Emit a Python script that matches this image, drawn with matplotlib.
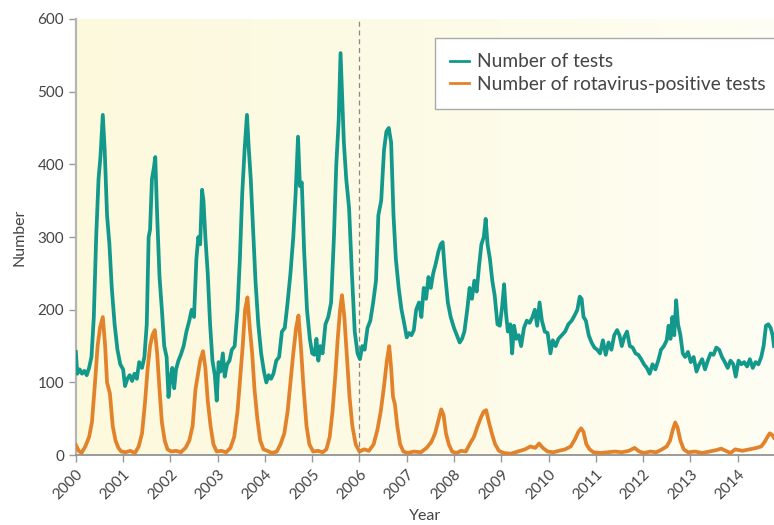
import matplotlib
matplotlib.use("Agg")
import matplotlib.pyplot as plt
import numpy as np
from matplotlib.colors import LinearSegmentedColormap

plt.rcParams['font.family'] = ['Lato', 'DejaVu Sans']

# weekly counts (decimal year, value)
tests_t = [2000.00, 2000.03, 2000.08, 2000.13, 2000.18, 2000.23, 2000.28, 2000.33, 2000.38,
           2000.43, 2000.48, 2000.52, 2000.57, 2000.61, 2000.66, 2000.71, 2000.76, 2000.82,
           2000.88, 2000.94, 2001.00, 2001.04, 2001.09, 2001.14, 2001.19, 2001.24, 2001.29,
           2001.34, 2001.40, 2001.45, 2001.50, 2001.54, 2001.57, 2001.61, 2001.65, 2001.68,
           2001.72, 2001.77, 2001.82, 2001.87, 2001.92, 2001.96, 2002.00, 2002.04, 2002.08,
           2002.12, 2002.17, 2002.22, 2002.28, 2002.34, 2002.40, 2002.45, 2002.50, 2002.55,
           2002.59, 2002.63, 2002.67, 2002.70, 2002.74, 2002.79, 2002.84, 2002.89, 2002.94,
           2002.98, 2003.02, 2003.06, 2003.11, 2003.15, 2003.20, 2003.25, 2003.30, 2003.36,
           2003.42, 2003.47, 2003.52, 2003.57, 2003.62, 2003.66, 2003.70, 2003.75, 2003.80,
           2003.86, 2003.92, 2003.98, 2004.03, 2004.08, 2004.13, 2004.18, 2004.24, 2004.30,
           2004.36, 2004.42, 2004.48, 2004.54, 2004.60, 2004.65, 2004.70, 2004.74, 2004.78,
           2004.83, 2004.89, 2004.95, 2005.00, 2005.05, 2005.09, 2005.13, 2005.17, 2005.22,
           2005.28, 2005.34, 2005.40, 2005.46, 2005.51, 2005.56, 2005.60, 2005.63, 2005.67,
           2005.72, 2005.78, 2005.84, 2005.90, 2005.96, 2006.01, 2006.06, 2006.11, 2006.17,
           2006.23, 2006.29, 2006.35, 2006.40, 2006.46, 2006.52, 2006.57, 2006.62, 2006.67,
           2006.72, 2006.77, 2006.83, 2006.89, 2006.95, 2007.00, 2007.05, 2007.10, 2007.15,
           2007.20, 2007.26, 2007.31, 2007.36, 2007.41, 2007.46, 2007.51, 2007.56, 2007.62,
           2007.67, 2007.72, 2007.76, 2007.81, 2007.87, 2007.93, 2008.00, 2008.06, 2008.12,
           2008.17, 2008.22, 2008.28, 2008.33, 2008.38, 2008.43, 2008.48, 2008.53, 2008.58,
           2008.63, 2008.67, 2008.71, 2008.76, 2008.81, 2008.86, 2008.92, 2008.97, 2009.02,
           2009.06, 2009.10, 2009.14, 2009.19, 2009.23, 2009.27, 2009.32, 2009.37, 2009.42,
           2009.48, 2009.54, 2009.60, 2009.66, 2009.71, 2009.76, 2009.81, 2009.86, 2009.92,
           2009.98, 2010.04, 2010.09, 2010.15, 2010.21, 2010.28, 2010.35, 2010.42, 2010.49,
           2010.55, 2010.61, 2010.66, 2010.70, 2010.74, 2010.79, 2010.85, 2010.91, 2010.97,
           2011.03, 2011.09, 2011.15, 2011.21, 2011.27, 2011.33, 2011.39, 2011.45, 2011.50,
           2011.55, 2011.60, 2011.66, 2011.72, 2011.78, 2011.84, 2011.90, 2011.96, 2012.02,
           2012.08, 2012.14, 2012.20, 2012.26, 2012.32, 2012.38, 2012.44, 2012.50, 2012.54,
           2012.58, 2012.62, 2012.66, 2012.70, 2012.74, 2012.79, 2012.84, 2012.89, 2012.95,
           2013.01, 2013.07, 2013.13, 2013.19, 2013.25, 2013.31, 2013.37, 2013.43, 2013.49,
           2013.55, 2013.61, 2013.67, 2013.73, 2013.79, 2013.85, 2013.91, 2013.96, 2014.02,
           2014.08, 2014.14, 2014.20, 2014.26, 2014.32, 2014.38, 2014.44, 2014.50, 2014.55,
           2014.60, 2014.65, 2014.70, 2014.74, 2014.77]
tests_n = [142, 112, 118, 112, 116, 110, 120, 135, 190,
           300, 380, 410, 468, 420, 330, 290, 230, 180,
           145, 125, 118, 95, 105, 110, 102, 112, 105,
           128, 120, 135, 180, 300, 310, 380, 395, 410,
           330, 245, 200, 150, 135, 80, 105, 120, 92,
           118, 130, 138, 150, 170, 185, 200, 190, 270,
           300, 290, 365, 350, 300, 250, 180, 130, 110,
           75, 128, 115, 140, 108, 125, 130, 145, 150,
           200, 270, 360, 420, 468, 420, 380, 310, 240,
           180, 140, 115, 100, 110, 105, 112, 130, 135,
           170, 175, 210, 250, 300, 360, 438, 370, 375,
           280, 200, 160, 140, 138, 160, 130, 150, 140,
           180, 190, 210, 300, 400, 460, 553, 500, 430,
           380, 340, 250, 170, 140, 132, 150, 145, 175,
           185, 210, 240, 330, 350, 420, 445, 450, 430,
           330, 270, 230, 200, 180, 162, 168, 165, 172,
           200, 210, 190, 230, 215, 245, 230, 250, 265,
           280, 290, 293, 250, 210, 190, 175, 165, 155,
           160, 170, 200, 230, 215, 240, 225, 260, 290,
           300, 325, 290, 270, 240, 220, 180, 178, 205,
           235, 195, 170, 180, 140, 178, 160, 165, 150,
           175, 185, 182, 190, 200, 178, 210, 185, 170,
           168, 140, 158, 150, 160, 165, 170, 180, 185,
           192, 200, 218, 215, 190, 185, 165, 155, 148,
           145, 140, 158, 138, 155, 145, 165, 172, 165,
           150, 162, 170, 150, 148, 140, 138, 132, 125,
           120, 112, 125, 118, 130, 145, 150, 158, 178,
           160, 190, 165, 213, 180, 165, 140, 135, 142,
           128, 135, 115, 125, 132, 118, 130, 140, 138,
           148, 145, 135, 128, 120, 130, 125, 108, 130,
           125, 128, 122, 132, 120, 128, 125, 135, 150,
           178, 180, 175, 165, 150]

pos_t = [2000.00, 2000.06, 2000.12, 2000.20, 2000.28, 2000.34, 2000.40, 2000.46, 2000.51,
         2000.57, 2000.62, 2000.66, 2000.72, 2000.78, 2000.84, 2000.90, 2000.96, 2001.05,
         2001.15, 2001.25, 2001.33, 2001.40, 2001.46, 2001.52, 2001.57, 2001.62, 2001.67,
         2001.72, 2001.77, 2001.82, 2001.88, 2001.94, 2002.02, 2002.12, 2002.22, 2002.32,
         2002.40, 2002.47, 2002.53, 2002.58, 2002.63, 2002.69, 2002.74, 2002.79, 2002.85,
         2002.91, 2002.98, 2003.08, 2003.18, 2003.27, 2003.35, 2003.42, 2003.48, 2003.53,
         2003.58, 2003.63, 2003.68, 2003.73, 2003.78, 2003.84, 2003.90, 2003.97, 2004.05,
         2004.15, 2004.25, 2004.33, 2004.41, 2004.48, 2004.54, 2004.60, 2004.66, 2004.71,
         2004.76, 2004.82, 2004.88, 2004.94, 2005.02, 2005.12, 2005.22, 2005.30, 2005.37,
         2005.43, 2005.49, 2005.54, 2005.59, 2005.63, 2005.68, 2005.73, 2005.79, 2005.85,
         2005.92, 2006.00, 2006.10, 2006.20, 2006.30, 2006.38, 2006.45, 2006.52, 2006.58,
         2006.63, 2006.67, 2006.71, 2006.75, 2006.80, 2006.86, 2006.93, 2007.02, 2007.15,
         2007.30, 2007.42, 2007.52, 2007.60, 2007.67, 2007.73, 2007.78, 2007.83, 2007.89,
         2007.96, 2008.05, 2008.15, 2008.25, 2008.33, 2008.42, 2008.50, 2008.57, 2008.63,
         2008.68, 2008.74, 2008.80, 2008.87, 2008.95, 2009.05, 2009.20, 2009.35, 2009.50,
         2009.62, 2009.72, 2009.80, 2009.88, 2009.98, 2010.10, 2010.22, 2010.35, 2010.47,
         2010.56, 2010.63, 2010.69, 2010.74, 2010.80, 2010.87, 2010.95, 2011.10, 2011.25,
         2011.40, 2011.55, 2011.70, 2011.82, 2011.92, 2012.02, 2012.15, 2012.28, 2012.40,
         2012.50, 2012.57, 2012.63, 2012.68, 2012.73, 2012.79, 2012.86, 2012.95, 2013.10,
         2013.25, 2013.40, 2013.55, 2013.65, 2013.75, 2013.85, 2013.95, 2014.10, 2014.25,
         2014.40, 2014.50, 2014.57, 2014.63, 2014.68, 2014.73, 2014.77]
pos_n = [14, 6, 3, 12, 25, 45, 95, 150, 175,
         190, 150, 100, 85, 40, 20, 10, 5, 4,
         6, 3, 12, 30, 70, 120, 150, 165, 172,
         140, 90, 45, 20, 8, 5, 6, 4, 10,
         20, 40, 90, 110, 130, 143, 120, 75, 40,
         15, 5, 6, 4, 10, 25, 60, 110, 150,
         200, 217, 175, 140, 90, 50, 20, 8, 6,
         3, 5, 15, 30, 60, 100, 140, 175, 192,
         150, 90, 40, 15, 5, 6, 4, 8, 25,
         60, 110, 160, 200, 220, 190, 140, 80, 40,
         15, 5, 8, 6, 15, 35, 60, 95, 130,
         150, 120, 80, 70, 40, 15, 5, 3, 5,
         4, 10, 18, 30, 48, 63, 55, 30, 15,
         5, 3, 6, 5, 15, 25, 40, 52, 60,
         62, 45, 30, 15, 6, 3, 2, 5, 8,
         12, 10, 16, 10, 5, 4, 6, 8, 12,
         22, 32, 37, 32, 15, 8, 4, 3, 4,
         5, 4, 6, 10, 5, 3, 5, 4, 8,
         12, 20, 35, 45, 38, 20, 8, 4, 5,
         3, 5, 7, 9, 6, 3, 8, 6, 8,
         10, 12, 18, 25, 30, 28, 24]

years = list(range(2000, 2015))

teal = '#13998b'
orange = '#e2832b'

fig = plt.figure(figsize=(7.74, 5.25), dpi=100)
ax = fig.add_axes([0.098, 0.133, 0.902, 0.831])

# pale cream background, a touch warmer on the left
cmap = LinearSegmentedColormap.from_list('bg', ['#fcf9dd', '#fdfbe6', '#fffef4'])
grad = np.linspace(0, 1, 256).reshape(1, -1)
ax.imshow(grad, cmap=cmap, aspect='auto', extent=[2000, 2014.77, 0, 600],
          zorder=0)

ax.axvline(2006, color='#888888', lw=0.9, ls=(0, (4, 3)), zorder=1)

ax.plot(tests_t, tests_n, color=teal, lw=2.7, label='Number of tests', zorder=3,
        solid_joinstyle='round')
ax.plot(pos_t, pos_n, color=orange, lw=2.7, label='Number of rotavirus-positive tests',
        zorder=3, solid_joinstyle='round')

ax.set_xlim(2000, 2014.77)
ax.set_ylim(0, 600)
ax.set_yticks(range(0, 601, 100))
ax.set_xticks(years)
ax.set_xticklabels([str(y) for y in years], rotation=45, ha='right',
                   rotation_mode='anchor')

for s in ['top', 'right']:
    ax.spines[s].set_visible(False)
ax.spines['left'].set_color('#b5b5b5')
ax.spines['left'].set_linewidth(1.6)
ax.spines['bottom'].set_color('#8a8a8a')
ax.spines['bottom'].set_linewidth(1.2)
ax.tick_params(axis='both', colors='#999999', labelcolor='#444444', labelsize=11,
               length=5, width=1)

ax.set_ylabel('Number', fontsize=11.5, color='#444444', labelpad=8)
ax.set_xlabel('Year', fontsize=11.5, color='#444444', labelpad=5)

leg = ax.legend(loc='upper left', bbox_to_anchor=(0.514, 0.956), fontsize=13.8,
                frameon=True, fancybox=False, edgecolor='#aaaaaa', facecolor='white',
                framealpha=1, handlelength=1.0, handletextpad=0.4,
                borderpad=0.8, labelspacing=0.3, borderaxespad=0)
leg.get_frame().set_linewidth(1.0)
for t in leg.get_texts():
    t.set_color('#444444')
for h in leg.get_lines():
    h.set_linewidth(2.0)

fig.savefig('out.png', dpi=100)
